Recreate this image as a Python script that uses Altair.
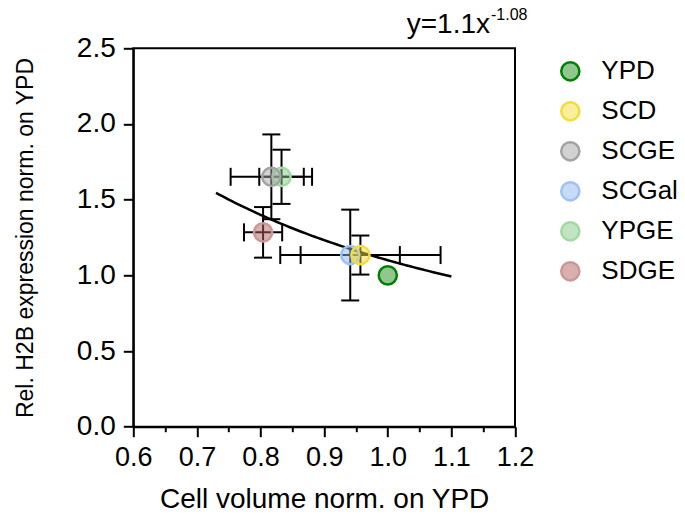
import altair as alt
import pandas as pd

FONT = "Liberation Sans"

# ---- data ----
names = ["YPD", "SCD", "SCGE", "SCGal", "YPGE", "SDGE"]
vol = [1.0, 0.957, 0.817, 0.941, 0.833, 0.804]
vol_err = [0.0, 0.126, 0.064, 0.078, 0.035, 0.030]
h2b = [1.0, 1.134, 1.651, 1.134, 1.651, 1.284]
h2b_err = [0.0, 0.129, 0.280, 0.300, 0.179, 0.167]

# point fills (drawn at 50% opacity) and the same fills as they look on white (legend)
fill_colors = ["#1f8f1f", "#f2dc3a", "#a6a6a6", "#8cb8f0", "#82cc82", "#b55f5f"]
legend_fill_colors = ["#8fc78f", "#f8ee9c", "#d2d2d2", "#c5dbf7", "#c0e5c0", "#daafaf"]
stroke_colors = ["#008000", "#f3dd3c", "#a3a3a3", "#9cc3f3", "#a3d9a3", "#c99999"]

x_ticks = [0.6, 0.65, 0.7, 0.75, 0.8, 0.85, 0.9, 0.95, 1.0, 1.05, 1.1, 1.15, 1.2]
y_ticks = [0.0, 0.5, 1.0, 1.5, 2.0, 2.5]

fit_a = 1.1
fit_b = -1.08
fit_x_min = 0.73
fit_x_max = 1.1

# ---- tables ----
df = pd.DataFrame({"medium": names, "vol": vol, "vol_err": vol_err,
                   "h2b": h2b, "h2b_err": h2b_err})
df["vol_lo"] = df["vol"] - df["vol_err"]
df["vol_hi"] = df["vol"] + df["vol_err"]
df["h2b_lo"] = df["h2b"] - df["h2b_err"]
df["h2b_hi"] = df["h2b"] + df["h2b_err"]
err_df = df[df["vol_err"] > 0]
draw_df = df.iloc[::-1].reset_index(drop=True)

W, H = 381.7, 378.4
PL, PT = 133.3, 48.3

xscale = alt.Scale(domain=[0.6, 1.2], nice=False, zero=False)
yscale = alt.Scale(domain=[0.0, 2.5], nice=False, zero=False)
major = "abs(datum.value*10 - round(datum.value*10)) < 0.01"
xaxis = alt.Axis(values=x_ticks, title="Cell volume norm. on YPD",
                 labelExpr=f"{major} ? format(datum.value, '.1f') : ''",
                 tickSize={"condition": {"test": major, "value": 10}, "value": 5},
                 labelFontSize=27, titleFontSize=28, labelPadding=8, titlePadding=15,
                 grid=False, labelFlush=False)
yaxis = alt.Axis(values=y_ticks, format=".1f", title="Rel. H2B expression norm. on YPD",
                 tickSize=10, labelFontSize=28, titleFontSize=23, labelPadding=8,
                 titlePadding=39, grid=False, labelFlush=False)


def X(field):
    return alt.X(field, type="quantitative", scale=xscale, axis=xaxis)


def Y(field):
    return alt.Y(field, type="quantitative", scale=yscale, axis=yaxis)


eb = alt.Chart(err_df)
hbar = eb.mark_rule(color="black", strokeWidth=2).encode(x=X("vol_lo"), x2="vol_hi", y=Y("h2b"))
vbar = eb.mark_rule(color="black", strokeWidth=2).encode(x=X("vol"), y=Y("h2b_lo"), y2="h2b_hi")
hcap_lo = eb.mark_tick(orient="vertical", size=18, thickness=2, color="black", opacity=1).encode(x=X("vol_lo"), y=Y("h2b"))
hcap_hi = eb.mark_tick(orient="vertical", size=18, thickness=2, color="black", opacity=1).encode(x=X("vol_hi"), y=Y("h2b"))
vcap_lo = eb.mark_tick(orient="horizontal", size=18, thickness=2, color="black", opacity=1).encode(x=X("vol"), y=Y("h2b_lo"))
vcap_hi = eb.mark_tick(orient="horizontal", size=18, thickness=2, color="black", opacity=1).encode(x=X("vol"), y=Y("h2b_hi"))

fit = alt.Chart(alt.sequence(fit_x_min, fit_x_max + 1e-6, 0.005, as_="x")).transform_calculate(
    y=f"{fit_a}*pow(datum.x, {fit_b})"
).mark_line(color="black", strokeWidth=2.5).encode(x=X("x"), y=Y("y"))

# the drawn points (no legend of their own)
points = alt.Chart(draw_df).mark_circle(size=330, strokeWidth=2.5, opacity=1, fillOpacity=0.5).encode(
    x=X("vol"), y=Y("h2b"),
    fill=alt.Fill("medium:N", scale=alt.Scale(domain=names, range=fill_colors), legend=None),
    stroke=alt.Stroke("medium:N", scale=alt.Scale(domain=names, range=stroke_colors), legend=None),
)

# legend-only layer (its data is filtered out, so it draws nothing in the plot)
legend = alt.Legend(title=None, orient="none", legendX=424, legendY=10, padding=0,
                    rowPadding=10, labelOffset=18, labelFontSize=26, labelFont=FONT,
                    symbolSize=330, symbolStrokeWidth=2.5, symbolType="circle",
                    labelColor="black", labelLimit=300)
legend_layer = alt.Chart(df).transform_filter("false").mark_circle(size=330, strokeWidth=2.5, opacity=1).encode(
    x=X("vol"), y=Y("h2b"),
    fill=alt.Fill("medium:N", scale=alt.Scale(domain=names, range=legend_fill_colors), legend=legend),
    stroke=alt.Stroke("medium:N", scale=alt.Scale(domain=names, range=stroke_colors), legend=legend),
)

eq_df = pd.DataFrame({"main": [f"y={fit_a}x"], "sup": [f"{fit_b}"]})
eq_main = alt.Chart(eq_df).mark_text(align="right", baseline="alphabetic", fontSize=28, font=FONT, color="black").encode(
    x=alt.value(356.7), y=alt.value(-15.0), text="main:N")
eq_sup = alt.Chart(eq_df).mark_text(align="left", baseline="alphabetic", fontSize=16, font=FONT, color="black").encode(
    x=alt.value(357.7), y=alt.value(-28.0), text="sup:N")

chart = alt.layer(hbar, vbar, hcap_lo, hcap_hi, vcap_lo, vcap_hi, fit, points, legend_layer,
                  eq_main, eq_sup).resolve_scale(fill="independent", stroke="independent").properties(
    width=W, height=H, autosize="none",
    padding={"left": PL, "top": PT, "right": 685 - PL - W, "bottom": 520 - PT - H},
).configure_view(stroke="black", strokeWidth=2).configure_axis(
    domainColor="black", domainWidth=2, tickColor="black", tickWidth=2,
    labelColor="black", titleColor="black", labelFont=FONT, titleFont=FONT,
    titleFontWeight="normal",
)

chart.save("out.html", embed_options={"renderer": "svg", "actions": False})
